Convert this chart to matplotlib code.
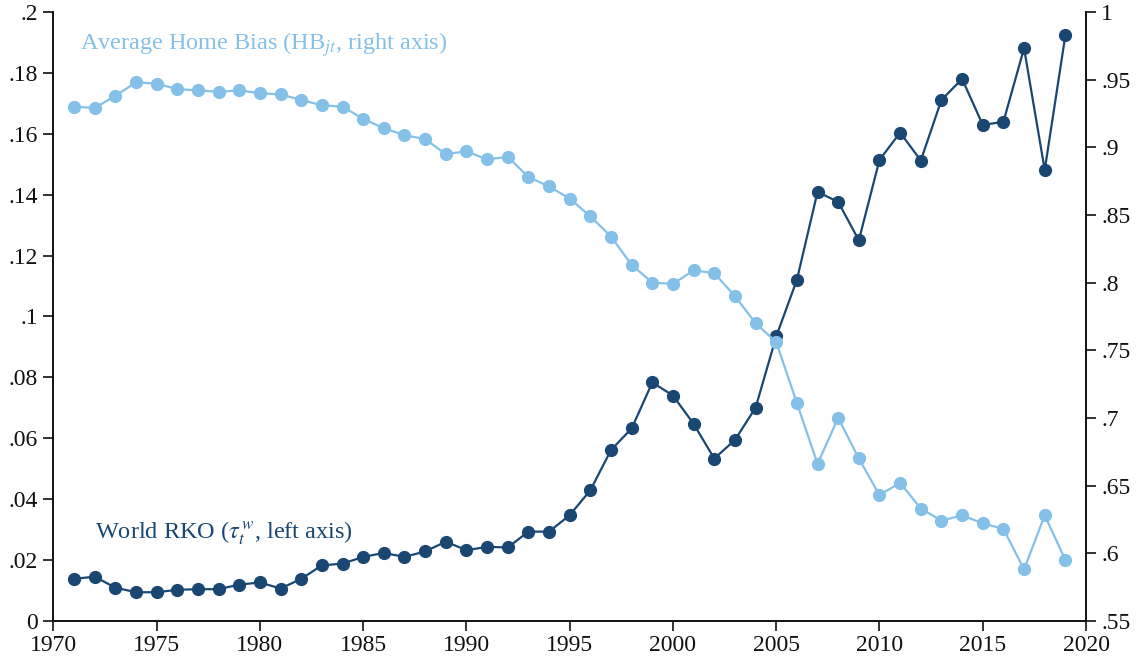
import numpy as np
import matplotlib
matplotlib.use("Agg")
import matplotlib.pyplot as plt
from matplotlib.ticker import FuncFormatter, MultipleLocator

# data
years = list(range(1971, 2020))

world_rko = [0.0138, 0.0145, 0.0109, 0.0094, 0.0094, 0.0102, 0.0104, 0.0104, 0.0119, 0.0126,
             0.0106, 0.0138, 0.0182, 0.0188, 0.0210, 0.0223, 0.0210, 0.0228, 0.0260, 0.0232,
             0.0243, 0.0241, 0.0293, 0.0293, 0.0347, 0.0429, 0.0561, 0.0632, 0.0783, 0.0740,
             0.0647, 0.0533, 0.0594, 0.0700, 0.0934, 0.1120, 0.1409, 0.1376, 0.1250, 0.1514,
             0.1604, 0.1512, 0.1711, 0.1780, 0.1629, 0.1639, 0.1881, 0.1481, 0.1923]

home_bias = [0.930, 0.929, 0.938, 0.948, 0.947, 0.943, 0.942, 0.941, 0.942, 0.940,
             0.939, 0.935, 0.931, 0.930, 0.921, 0.914, 0.909, 0.906, 0.895, 0.897,
             0.891, 0.893, 0.878, 0.871, 0.862, 0.849, 0.834, 0.813, 0.800, 0.799,
             0.809, 0.807, 0.790, 0.770, 0.756, 0.711, 0.666, 0.700, 0.670, 0.643,
             0.652, 0.633, 0.624, 0.628, 0.622, 0.618, 0.588, 0.628, 0.595]

dark = "#1a4772"
light = "#85c0e9"

plt.rcParams['font.family'] = ['Liberation Serif', 'DejaVu Serif']
plt.rcParams['mathtext.fontset'] = 'stix'


def nozero(v, pos):
    s = '%g' % v
    s = s.lstrip('0')
    return s if s else '0'


fig = plt.figure(figsize=(11.36, 6.64), dpi=100)
ax = fig.add_axes([0.047, 0.065, 0.909, 0.917])
ax2 = ax.twinx()

ax.plot(years, world_rko, color=dark, lw=1.6, marker='o', ms=8.5, zorder=3)
ax2.plot(years, home_bias, color=light, lw=1.6, marker='o', ms=8.5, zorder=3)

ax.set_xlim(1970, 2020)
ax.set_ylim(0, 0.2)
ax2.set_ylim(0.55, 1.0)
ax.xaxis.set_major_locator(MultipleLocator(5))
ax.yaxis.set_major_locator(MultipleLocator(0.02))
ax2.yaxis.set_major_locator(MultipleLocator(0.05))
ax.yaxis.set_major_formatter(FuncFormatter(nozero))
ax2.yaxis.set_major_formatter(FuncFormatter(nozero))

for a in (ax, ax2):
    a.spines['top'].set_visible(False)
    for s in ('left', 'right', 'bottom'):
        a.spines[s].set_linewidth(1.2)
        a.spines[s].set_color('#111111')
    a.tick_params(direction='out', length=7, width=1.2, labelsize=17, colors='#111111')

ax.tick_params(axis='y', pad=4)
ax2.tick_params(axis='y', pad=4)
ax.tick_params(axis='x', pad=3)

ax.text(0.026, 0.946, 'Average Home Bias (HB$_{jt}$, right axis)', transform=ax.transAxes,
        color=light, fontsize=17.5, ha='left', va='center')
ax.text(0.0405, 0.1445, r'World RKO ($\tau_t^{\,w}$, left axis)', transform=ax.transAxes,
        color=dark, fontsize=17.5, ha='left', va='center')

fig.savefig('out.png', dpi=100)
